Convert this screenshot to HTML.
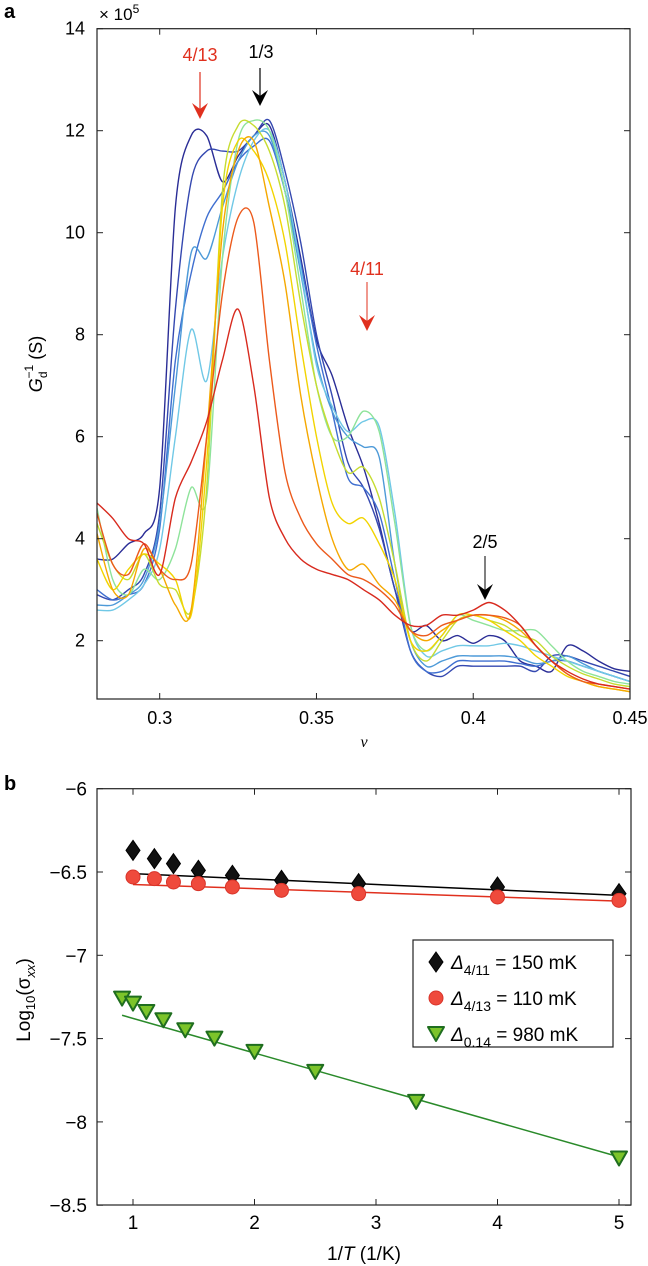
<!DOCTYPE html>
<html><head><meta charset="utf-8">
<style>
html,body{margin:0;padding:0;background:#fff;}
svg{display:block;font-family:"Liberation Sans",sans-serif;}
</style></head>
<body>
<svg id="chart" width="648" height="1266" viewBox="0 0 648 1266" xmlns="http://www.w3.org/2000/svg">
<g id="pa"></g>
<g id="pb"></g>
</svg>
<script>
// ---------- Panel a data ----------
const nuGrid = [0.28,0.285,0.29,0.295,0.30,0.305,0.31,0.315,0.32,0.325,0.33,0.335,0.34,0.345,0.35,0.355,0.36,0.365,0.37,0.375,0.38,0.385,0.39,0.395,0.40,0.405,0.41,0.415,0.42,0.425,0.43,0.435,0.44,0.445,0.45];
const curveColors = ["#2a2d96","#3448b0","#3f6fd0","#4d9ad8","#70c8e6","#8ee39a","#c6dc30","#f2d400","#f5a800","#ec5a1c","#d82a1e"];
const curve1 = [3.6,3.6,3.9,4.1,5.0,10.5,11.9,11.9,11.0,11.5,11.9,12.1,11.0,9.5,7.9,7.2,6.2,5.4,4.3,3.0,2.2,2.3,2.0,2.1,1.95,2.1,2.0,1.6,1.5,1.4,1.9,1.8,1.6,1.45,1.4];
const curve2 = [2.9,2.8,3.0,3.3,4.5,8.5,11.0,11.6,11.6,11.6,11.9,12.2,11.2,9.8,8.0,6.8,5.5,5.0,4.2,3.0,1.8,1.4,1.3,1.5,1.5,1.5,1.5,1.5,1.4,1.7,1.7,1.6,1.5,1.4,1.3];
const curve3 = [3.0,2.8,2.9,3.1,4.2,7.5,9.2,10.3,10.8,11.4,11.7,11.8,10.8,9.4,7.8,6.5,5.2,5.0,4.5,3.2,1.8,1.4,1.4,1.6,1.6,1.6,1.6,1.55,1.5,1.6,1.6,1.5,1.4,1.3,1.2];
const curve4 = [2.7,2.7,2.9,3.2,4.3,7.0,9.6,9.5,10.5,11.4,11.9,11.9,10.8,9.2,7.5,6.5,6.0,5.8,5.6,3.5,2.0,1.5,1.6,1.7,1.7,1.7,1.7,1.65,1.55,1.6,1.7,1.55,1.4,1.3,1.2];
const curve5 = [2.6,2.6,2.8,3.1,3.8,6.0,8.1,7.1,9.5,11.0,11.8,12.0,11.0,9.3,7.4,6.6,6.1,6.3,6.2,4.5,2.3,1.7,1.8,1.9,1.9,1.9,1.95,1.9,1.8,1.7,1.6,1.5,1.4,1.3,1.2];
const curve6 = [4.6,3.2,2.9,3.4,3.2,3.8,5.0,4.8,9.5,11.8,12.2,12.0,10.8,8.9,7.0,6.0,6.0,6.5,6.1,4.3,2.3,1.8,2.1,2.5,2.4,2.3,2.2,2.2,2.2,1.9,1.6,1.4,1.3,1.2,1.15];
const curve7 = [4.3,3.5,3.2,3.7,3.1,3.0,2.6,5.0,10.8,12.1,12.1,11.6,10.5,8.6,7.0,6.0,5.3,5.4,4.8,3.5,2.0,1.6,2.0,2.4,2.5,2.4,2.3,2.1,2.0,1.7,1.5,1.35,1.25,1.15,1.1];
const curve8 = [3.6,3.0,3.4,3.7,3.5,3.2,2.5,5.5,10.5,11.8,11.6,11.0,9.8,7.8,6.0,4.7,4.3,4.4,3.9,3.2,2.0,1.8,2.1,2.5,2.5,2.4,2.2,2.0,1.7,1.5,1.3,1.2,1.1,1.05,1.0];
const curve9 = [4.1,3.0,2.9,3.8,3.4,2.7,2.6,6.0,10.0,11.6,11.8,10.5,9.0,6.8,5.2,4.0,3.4,3.5,3.1,2.8,2.2,2.0,2.2,2.4,2.5,2.5,2.4,2.2,1.9,1.6,1.35,1.2,1.1,1.05,1.0];
const curve10 = [4.5,3.5,3.3,3.9,3.4,3.2,3.5,6.0,8.8,10.3,10.2,7.5,5.3,4.4,3.9,3.6,3.3,3.2,3.0,2.7,2.2,2.1,2.3,2.4,2.5,2.5,2.45,2.3,1.9,1.6,1.35,1.2,1.15,1.1,1.05];
const curve11 = [4.7,4.4,4.0,3.9,3.3,4.8,5.5,6.3,7.5,8.5,7.0,4.8,4.0,3.6,3.4,3.3,3.2,3.0,2.8,2.5,2.3,2.3,2.5,2.5,2.6,2.75,2.6,2.3,1.9,1.6,1.4,1.25,1.15,1.1,1.05];
const aYTicks = [2,4,6,8,10,12,14];
const aXTicks = [0.3,0.35,0.4,0.45];
const aXTickLabels = ["0.3","0.35","0.4","0.45"];

// ---------- Panel b data ----------
const invT_diamond = [1,1.176,1.333,1.538,1.818,2.222,2.857,4,5];
const log_diamond = [-6.37,-6.42,-6.45,-6.49,-6.52,-6.55,-6.57,-6.59,-6.63];
const fit_diamond = [[1,-6.51],[5,-6.64]];
const invT_circle = [1,1.176,1.333,1.538,1.818,2.222,2.857,4,5];
const log_circle = [-6.53,-6.54,-6.56,-6.57,-6.59,-6.61,-6.63,-6.65,-6.67];
const fit_circle = [[1,-6.575],[5,-6.675]];
const invT_tri = [0.91,1,1.11,1.25,1.43,1.67,2,2.5,3.33,5];
const log_tri = [-7.26,-7.29,-7.34,-7.39,-7.45,-7.50,-7.58,-7.70,-7.88,-8.22];
const fit_tri = [[0.91,-7.36],[5,-8.21]];
const bYTicks = [-6,-6.5,-7,-7.5,-8,-8.5];
const bYTickLabels = ["\u22126","\u22126.5","\u22127","\u22127.5","\u22128","\u22128.5"];
const bXTicks = [1,2,3,4,5];

const NS = "http://www.w3.org/2000/svg";
function mk(tag, attrs, parent){
  const e = document.createElementNS(NS, tag);
  for (const k in attrs) e.setAttribute(k, attrs[k]);
  parent.appendChild(e);
  return e;
}
function smoothPath(pts){
  let d = "M"+pts[0][0].toFixed(1)+","+pts[0][1].toFixed(1);
  for (let i=0;i<pts.length-1;i++){
    const p0=pts[Math.max(0,i-1)], p1=pts[i], p2=pts[i+1], p3=pts[Math.min(pts.length-1,i+2)];
    const k=0.15;
    const c1=[p1[0]+(p2[0]-p0[0])*k, p1[1]+(p2[1]-p0[1])*k];
    const c2=[p2[0]-(p3[0]-p1[0])*k, p2[1]-(p3[1]-p1[1])*k];
    d+=" C"+c1[0].toFixed(1)+","+c1[1].toFixed(1)+" "+c2[0].toFixed(1)+","+c2[1].toFixed(1)+" "+p2[0].toFixed(1)+","+p2[1].toFixed(1);
  }
  return d;
}

// ---------- Panel a ----------
(function(){
  const g = document.getElementById("pa");
  const L=97, R=630, T=28.7, B=699;
  const xa = v => L + (v-0.28)/(0.45-0.28)*(R-L);
  const ya = v => T + (14-v)*51;
  const t = mk("text",{x:4,y:18,"font-size":20,"font-weight":"bold"},g); t.textContent="a";
   
  const clip = mk("clipPath",{id:"clipA"},g);
  mk("rect",{x:L,y:T,width:R-L,height:B-T},clip);
  const curves=[curve1,curve2,curve3,curve4,curve5,curve6,curve7,curve8,curve9,curve10,curve11];
  const cg = mk("g",{"clip-path":"url(#clipA)"},g);
  curves.forEach((c,i)=>{
    const pts = c.map((v,j)=>[xa(nuGrid[j]), ya(v)]);
    const p = mk("path",{d:smoothPath(pts),fill:"none",stroke:curveColors[i],"stroke-width":1.4,"stroke-linejoin":"round"},cg);
    
    
  });
  const box = mk("rect",{x:L,y:T,width:R-L,height:B-T,fill:"none",stroke:"#222","stroke-width":1.2},g);
   
  aYTicks.forEach(v=>{
    const y=ya(v);
    mk("line",{x1:L,x2:L+6,y1:y,y2:y,stroke:"#222"},g);
    mk("line",{x1:R-6,x2:R,y1:y,y2:y,stroke:"#222"},g);
    const tx = mk("text",{x:L-12,y:y+6,"font-size":18,"text-anchor":"end"},g); tx.textContent=v;
     
  });
  aXTicks.forEach((v,i)=>{
    const x=xa(v);
    mk("line",{x1:x,x2:x,y1:B,y2:B-6,stroke:"#222"},g);
    mk("line",{x1:x,x2:x,y1:T,y2:T+6,stroke:"#222"},g);
    const tx = mk("text",{x:x,y:724,"font-size":18,"text-anchor":"middle"},g); tx.textContent=aXTickLabels[i];
     
  });
  const ex = mk("text",{x:99,y:20,"font-size":17},g);
  ex.innerHTML = '× 10<tspan dy="-7" font-size="12">5</tspan>';
   
  const xl = mk("text",{x:364,y:747,"font-size":16,"font-style":"italic","font-family":"Liberation Serif, serif","text-anchor":"middle"},g);
  xl.textContent="ν";  
  const yl = mk("text",{transform:"translate(42,364) rotate(-90)","font-size":18,"text-anchor":"middle"},g);
  yl.innerHTML='<tspan font-style="italic">G</tspan><tspan dy="5" font-size="12">d</tspan><tspan dx="-7" dy="-14" font-size="12">−1</tspan><tspan dy="9"> (S)</tspan>';
   
  function arrow(x,y1,y2,col,name,thin){
    const a = mk("g",{},g);
     
    mk("line",{x1:x,x2:x,y1:y1,y2:y2-10,stroke:col,"stroke-width":thin?1:1.2},a);
    mk("path",{d:`M${x-8},${y2-16} L${x},${y2} L${x+8},${y2-16} L${x},${y2-10} Z`,fill:col},a);
  }
  function label(x,y,s,col,name){
    const tx=mk("text",{x:x,y:y,"font-size":18,"text-anchor":"middle",fill:col},g); tx.textContent=s;
     
  }
  label(200,61,"4/13","#e0301e","label-4-13"); arrow(200,72,119,"#e0301e","arrow-4-13");
  label(261,58,"1/3","#000","label-1-3"); arrow(260,68,106,"#000","arrow-1-3");
  label(367,275,"4/11","#e0301e","label-4-11"); arrow(367,282,331,"#e0301e","arrow-4-11",true);
  label(485,548,"2/5","#000","label-2-5"); arrow(485,556,600,"#000","arrow-2-5",true);
})();

// ---------- Panel b ----------
(function(){
  const g = document.getElementById("pb");
  const L=97, R=631, T=788.7, B=1205;
  const x0=133, ux=121.5;
  const xb = v => x0 + (v-1)*ux;
  const yb = v => T + (-6 - v)*166.6;
  const t = mk("text",{x:4,y:790,"font-size":20,"font-weight":"bold"},g); t.textContent="b";
   
  const box = mk("rect",{x:L,y:T,width:R-L,height:B-T,fill:"none",stroke:"#222","stroke-width":1.2},g);
   
  bYTicks.forEach((v,i)=>{
    const y=yb(v);
    mk("line",{x1:L,x2:L+6,y1:y,y2:y,stroke:"#222"},g);
    mk("line",{x1:R-6,x2:R,y1:y,y2:y,stroke:"#222"},g);
    const tx=mk("text",{x:L-10,y:y+7,"font-size":19,"text-anchor":"end"},g); tx.textContent=bYTickLabels[i];
     
  });
  bXTicks.forEach(v=>{
    const x=xb(v);
    mk("line",{x1:x,x2:x,y1:B,y2:B-6,stroke:"#222"},g);
    mk("line",{x1:x,x2:x,y1:T,y2:T+6,stroke:"#222"},g);
    const tx=mk("text",{x:x,y:1229,"font-size":19,"text-anchor":"middle"},g); tx.textContent=v;
     
  });
  const xl=mk("text",{x:364,y:1260,"font-size":19,"text-anchor":"middle"},g);
  xl.innerHTML='1/<tspan font-style="italic">T</tspan> (1/K)';
   
  const yl=mk("text",{transform:"translate(30,1000) rotate(-90)","font-size":19,"text-anchor":"middle"},g);
  yl.innerHTML='Log<tspan dy="5" font-size="13">10</tspan><tspan dy="-5">(σ</tspan><tspan dy="5" font-size="13" font-style="italic">xx</tspan><tspan dy="-5">)</tspan>';
   
  [[fit_diamond,"#000","fit-line-4-11"],[fit_circle,"#e0301e","fit-line-4-13"],[fit_tri,"#2a8a2a","fit-line-0-14"]].forEach(f=>{
    const l=mk("line",{x1:xb(f[0][0][0]),y1:yb(f[0][0][1]),x2:xb(f[0][1][0]),y2:yb(f[0][1][1]),stroke:f[1],"stroke-width":1.5},g);
     
  });
  function diamond(x,y,p){return mk("path",{d:`M${x},${y-10} L${x+7},${y} L${x},${y+10} L${x-7},${y} Z`,fill:"#111",stroke:"#000"},p);}
  function circle(x,y,p){return mk("circle",{cx:x,cy:y,r:7,fill:"#ef4a3c",stroke:"#d8342a","stroke-width":1},p);}
  function tri(x,y,p){return mk("path",{d:`M${x-8},${y-7} L${x+8},${y-7} L${x},${y+7} Z`,fill:"#7cc42a",stroke:"#1f6e1f","stroke-width":2,"stroke-linejoin":"round"},p);}
  invT_diamond.forEach((v,i)=>{const m=diamond(xb(v),yb(log_diamond[i]),g);
     });
  invT_circle.forEach((v,i)=>{const m=circle(xb(v),yb(log_circle[i]),g);
     });
  invT_tri.forEach((v,i)=>{const m=tri(xb(v),yb(log_tri[i]),g);
     });
  const lg=mk("g",{},g);
   
  mk("rect",{x:413,y:940,width:200,height:107,fill:"#fff",stroke:"#222","stroke-width":1.2},lg);
  const rows=[["4/11","150",diamond,"legend-entry-4-11"],["4/13","110",circle,"legend-entry-4-13"],["0.14","980",tri,"legend-entry-0-14"]];
  rows.forEach((r,i)=>{
    const y=962+i*36;
    const eg=mk("g",{},lg);
     
    r[2](436,y,eg);
    const tx=mk("text",{x:451,y:y+7,"font-size":19},eg);
    tx.innerHTML='<tspan font-style="italic">Δ</tspan><tspan dy="6" font-size="14">'+r[0]+'</tspan><tspan dy="-6"> = '+r[1]+' mK</tspan>';
  });
})();
</script>
</body></html>
